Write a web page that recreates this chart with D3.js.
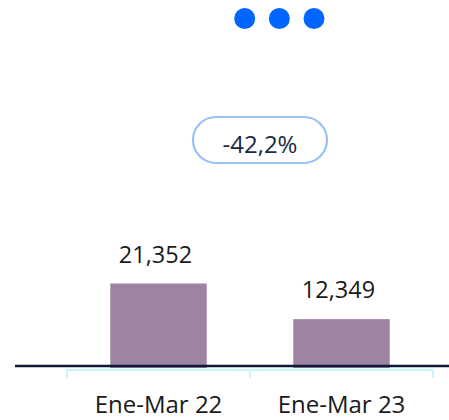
<!DOCTYPE html>
<html>
<head>
<meta charset="utf-8">
<script src="https://cdn.jsdelivr.net/npm/d3@7"></script>
<style>
  html, body { margin: 0; padding: 0; background: #ffffff; }
  svg { display: block; }
  text { font-family: "Open Sans", "Noto Sans", sans-serif; }
</style>
</head>
<body>
<div id="chart"></div>
<script>
const categories = ["Ene-Mar 22", "Ene-Mar 23"];
const values = [21352, 12349];
const valueLabels = ["21,352", "12,349"];
const changeLabel = "-42,2%";
const dots = [0, 1, 2];

const W = 449, H = 420;
const svg = d3.select("#chart").append("svg").attr("width", W).attr("height", H);

// decorative dots
const dotX = d3.scalePoint().domain(dots).range([244.7, 314]);
svg.selectAll("circle.dot").data(dots).enter().append("circle")
  .attr("class", "dot")
  .attr("cx", d => dotX(d)).attr("cy", 18.5).attr("r", 10.5)
  .attr("fill", "#0066ff");

// change pill
svg.append("rect")
  .attr("x", 193).attr("y", 117).attr("width", 134).attr("height", 46)
  .attr("rx", 23).attr("ry", 23)
  .attr("fill", "#ffffff").attr("stroke", "#99c2f7").attr("stroke-width", 2.2);
svg.append("text")
  .attr("x", 260).attr("y", 153)
  .attr("text-anchor", "middle")
  .attr("font-size", 24).attr("fill", "#1b2a45")
  .text(changeLabel);

// scales
const x = d3.scaleBand().domain(categories).range([67, 433]).paddingInner(0).paddingOuter(0);
const y = d3.scaleLinear().domain([0, values[0]]).range([368, 283.5]);
const barW = x.bandwidth() * 0.527;

// bars
svg.selectAll("rect.bar").data(categories).enter().append("rect")
  .attr("class", "bar")
  .attr("x", (d) => x(d) + x.bandwidth() / 2 - barW / 2)
  .attr("y", (d, i) => y(values[i]))
  .attr("width", barW)
  .attr("height", (d, i) => y(0) - y(values[i]))
  .attr("fill", "#9e84a3");

// value labels
svg.selectAll("text.val").data(categories).enter().append("text")
  .attr("class", "val")
  .attr("x", (d) => x(d) + x.bandwidth() / 2 - 3)
  .attr("y", (d, i) => y(values[i]) - 21)
  .attr("text-anchor", "middle")
  .attr("font-size", 23.5).attr("fill", "#1a1a1a")
  .text((d, i) => valueLabels[i]);

// category bracket axis
const axisG = svg.append("g").attr("transform", "translate(0,370)");
const axis = d3.axisBottom(x).tickSize(0).tickFormat("");
axisG.call(axis);
axisG.select(".domain").remove();
axisG.append("path")
  .attr("d", `M${x.range()[0]},8V0H${x.range()[1]}V8`)
  .attr("fill", "none").attr("stroke", "#c8f6ff").attr("stroke-width", 2);
axisG.append("line")
  .attr("x1", x(categories[1])).attr("x2", x(categories[1]))
  .attr("y1", 0).attr("y2", 8)
  .attr("stroke", "#c8f6ff").attr("stroke-width", 2);

// category labels
svg.selectAll("text.cat").data(categories).enter().append("text")
  .attr("class", "cat")
  .attr("x", d => x(d) + x.bandwidth() / 2)
  .attr("y", 413)
  .attr("text-anchor", "middle")
  .attr("font-size", 24).attr("fill", "#1a1a1a")
  .text(d => d);

// baseline
svg.append("line")
  .attr("x1", 15).attr("x2", W).attr("y1", 366).attr("y2", 366)
  .attr("stroke", "#0c1a35").attr("stroke-width", 2.5);
</script>
</body>
</html>
